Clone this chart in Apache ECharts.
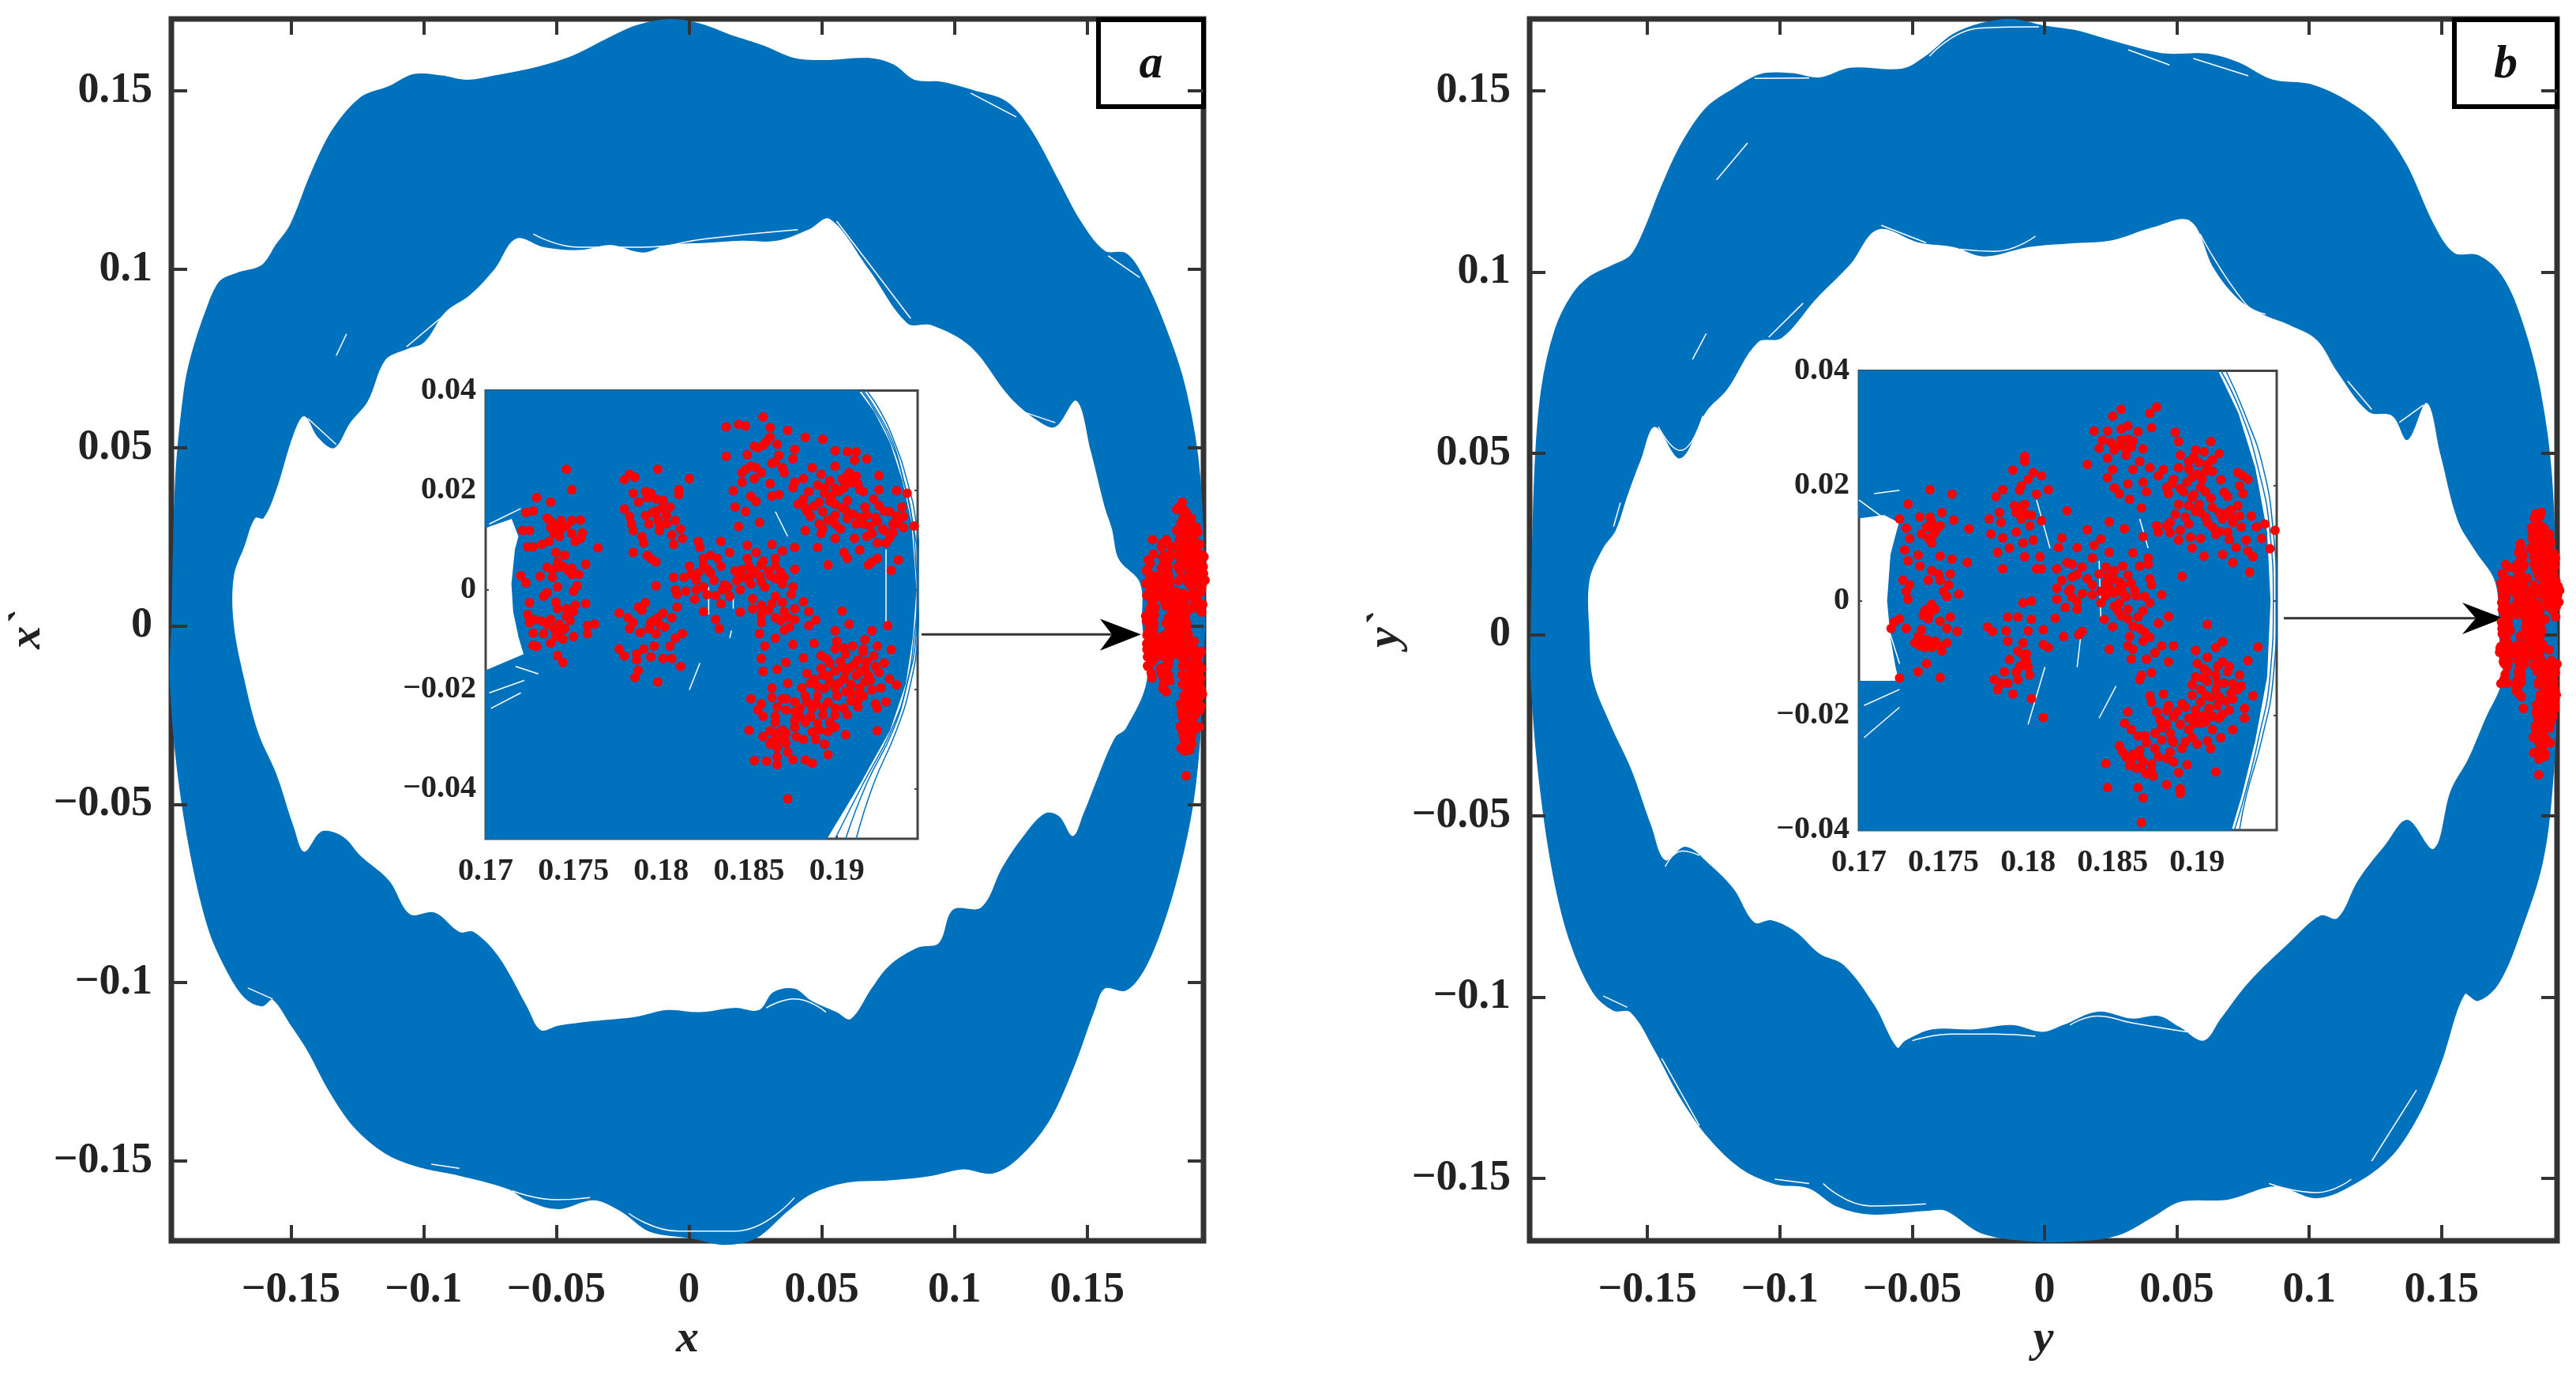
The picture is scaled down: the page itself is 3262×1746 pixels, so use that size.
<!DOCTYPE html>
<html><head><meta charset="utf-8">
<style>html,body{margin:0;padding:0;background:#fff}#c{width:3262px;height:1746px;filter:blur(0.7px)}</style>
<script src="https://cdn.jsdelivr.net/npm/echarts@6/dist/echarts.min.js"></script>
</head><body><div id="c"></div>
<script>
const ticksMain=[-.15,-.1,-.05,0,.05,.1,.15];
const ticksInsetX=[.17,.175,.18,.185,.19];
const ticksInsetY=[-.04,-.02,0,.02,.04];

const outerA=[[-.1948,.0005],[-.1933,.0418],[-.1901,.0661],[-.1874,.0758],[-.1821,.088],[-.1768,.0965],[-.1701,.0989],[-.1608,.1011],[-.1555,.1068],[-.1502,.1123],[-.1423,.1269],[-.1343,.139],[-.1237,.1481],[-.113,.1512],[-.1037,.1546],[-.0931,.1542],[-.0838,.153],[-.0732,.1542],[-.0573,.1566],[-.044,.1597],[-.0307,.1646],[-.0201,.1682],[-.0081,.17],[.0038,.1688],[.0171,.1652],[.0277,.1627],[.0397,.1591],[.0516,.1585],[.0676,.1591],[.0769,.1573],[.0848,.153],[.0955,.1524],[.1074,.15],[.1194,.147],[.1287,.139],[.1393,.1245],[.1473,.1135],[.1566,.105],[.1645,.1044],[.1711,.0977],[.1791,.0843],[.1871,.0661],[.1924,.0418],[.1942,.0005],[.1932,-.0151],[.1924,-.0314],[.1897,-.0501],[.1844,-.0689],[.1778,-.0852],[.1712,-.0965],[.1645,-.1021],[.1565,-.1015],[.1526,-.1077],[.1446,-.124],[.1353,-.139],[.1233,-.1496],[.1141,-.1534],[.1034,-.1522],[.0915,-.154],[.0755,-.1553],[.0596,-.1559],[.0463,-.159],[.037,-.164],[.0251,-.1716],[.0131,-.1734],[.0012,-.1716],[-.0148,-.1697],[-.0254,-.1641],[-.036,-.1609],[-.0493,-.1634],[-.0612,-.1609],[-.0679,-.1578],[-.0865,-.154],[-.1024,-.1515],[-.1144,-.1478],[-.1263,-.1403],[-.1356,-.1302],[-.1436,-.119],[-.1502,-.1115],[-.1568,-.1046],[-.1608,-.1065],[-.1675,-.104],[-.1741,-.0965],[-.1808,-.0852],[-.1874,-.0651],[-.1927,-.0401],[-.1954,-.0151]];
const holeA=[[-.1715,.0005],[-.1715,.0138],[-.1675,.0223],[-.1635,.0302],[-.1603,.0302],[-.1555,.0381],[-.1489,.0539],[-.1449,.0588],[-.1396,.0527],[-.1337,.0499],[-.1276,.057],[-.121,.063],[-.1144,.0746],[-.1064,.0776],[-.0998,.0795],[-.0918,.088],[-.0825,.0928],[-.0732,.1001],[-.0652,.1086],[-.0546,.1062],[-.0413,.1054],[-.0294,.1068],[-.0174,.1047],[-.0081,.1068],[.0065,.1074],[.0198,.108],[.0331,.108],[.045,.1111],[.053,.1141],[.0676,.1001],[.0822,.0849],[.0915,.0843],[.1061,.0783],[.1207,.0643],[.1313,.0576],[.138,.0558],[.1459,.0631],[.1513,.0491],[.1566,.0333],[.1593,.0272],[.1619,.0187],[.1699,.012],[.1707,.0005],[.1725,-.0151],[.1645,-.0288],[.1605,-.0313],[.1539,-.0426],[.1486,-.0526],[.1446,-.0589],[.1393,-.0533],[.134,-.0526],[.126,-.0589],[.118,-.0677],[.1101,-.0789],[.0994,-.0796],[.0941,-.0889],[.0862,-.0902],[.0755,-.0952],[.0689,-.1015],[.0609,-.1102],[.0556,-.1083],[.0463,-.1052],[.0397,-.1017],[.0317,-.1027],[.0264,-.1077],[.0171,-.1071],[.0038,-.1083],[-.0081,-.1077],[-.0201,-.1096],[-.036,-.1108],[-.0493,-.1121],[-.0559,-.1133],[-.0612,-.1065],[-.0718,-.0927],[-.0811,-.0858],[-.0865,-.0858],[-.0958,-.0804],[-.1051,-.0808],[-.113,-.0714],[-.1237,-.0645],[-.1303,-.0591],[-.1383,-.0576],[-.1449,-.0633],[-.1489,-.0564],[-.1555,-.0414],[-.1622,-.0301],[-.1675,-.0151]];
const outerB=[[-.1939,0],[-.1926,.0436],[-.19,.0675],[-.1848,.0842],[-.1783,.0938],[-.1719,.0986],[-.1628,.1019],[-.1563,.1045],[-.1511,.1117],[-.1446,.1236],[-.1369,.1356],[-.1278,.1452],[-.1174,.1505],[-.1071,.1545],[-.0954,.1547],[-.085,.1535],[-.0734,.1562],[-.0539,.1559],[-.0448,.1595],[-.0345,.1655],[-.0241,.1685],[-.0124,.1697],[-.0008,.1679],[.0122,.1665],[.0226,.1643],[.0342,.1619],[.0459,.1601],[.0614,.1601],[.0731,.1577],[.0861,.1529],[.1003,.1517],[.1146,.147],[.1262,.1404],[.1366,.1296],[.147,.1129],[.1547,.1051],[.1638,.1045],[.1729,.0986],[.1807,.0854],[.1871,.0675],[.1915,.0436],[.1936,0],[.1936,-.0123],[.1923,-.0369],[.1884,-.0615],[.1807,-.08],[.1716,-.096],[.1638,-.1009],[.1586,-.0991],[.1496,-.1182],[.1418,-.1317],[.1314,-.1434],[.1185,-.1508],[.1029,-.1553],[.0873,-.152],[.0692,-.1557],[.0511,-.1563],[.0407,-.1606],[.0277,-.1656],[.0122,-.1672],[-.006,-.1672],[-.0241,-.1649],[-.0371,-.1588],[-.0448,-.1588],[-.0656,-.1598],[-.0785,-.1576],[-.0889,-.1526],[-.1019,-.1514],[-.1148,-.1471],[-.1278,-.1379],[-.1382,-.1268],[-.1472,-.1145],[-.1563,-.104],[-.1628,-.1036],[-.1706,-.0985],[-.1796,-.0837],[-.1861,-.064],[-.1913,-.0369],[-.1939,-.0123]];
const holeB=[[-.1719,0],[-.1719,.0149],[-.1667,.0239],[-.162,.0287],[-.1576,.0382],[-.1524,.0484],[-.1472,.0573],[-.1376,.0486],[-.1278,.0615],[-.12,.0675],[-.1083,.0806],[-.0993,.0818],[-.0863,.0926],[-.0734,.1021],[-.063,.1117],[-.0474,.1081],[-.0345,.1069],[-.0228,.1043],[-.006,.1069],[.0096,.1079],[.0251,.1087],[.0407,.1123],[.055,.1141],[.064,.1009],[.0731,.0926],[.0822,.0884],[.0925,.0854],[.1029,.0812],[.1107,.0723],[.1223,.0615],[.1314,.0603],[.1371,.0537],[.1444,.0639],[.1496,.0495],[.156,.0316],[.1625,.0233],[.1703,.0143],[.1716,0],[.1729,-.0123],[.1664,-.0234],[.1599,-.0345],[.1534,-.0431],[.147,-.0591],[.1371,-.0511],[.1288,-.0579],[.1185,-.0677],[.1107,-.0782],[.1042,-.0775],[.0925,-.0849],[.077,-.096],[.0666,-.1059],[.0601,-.112],[.0511,-.1083],[.0433,-.1052],[.0329,-.1059],[.02,-.104],[.007,-.1077],[-.0008,-.1096],[-.0124,-.1077],[-.0267,-.1089],[-.0423,-.1089],[-.0526,-.112],[-.0557,-.1139],[-.0643,-.1022],[-.0759,-.0911],[-.085,-.088],[-.0941,-.0819],[-.1032,-.0788],[-.1096,-.0794],[-.1174,-.0702],[-.1265,-.0634],[-.1356,-.0585],[-.1433,-.0622],[-.1485,-.0529],[-.1563,-.0369],[-.1641,-.0246],[-.1706,-.0123]];

const insetBodyA=[[.17,.04],[.1912,.04],[.1921,.0357],[.193,.0295],[.1937,.0219],[.1942,.0138],[.1944,.005],[.1945,0],[.1943,-.0094],[.1939,-.0188],[.193,-.0282],[.1913,-.0389],[.1894,-.05],[.17,-.05],[.17,-.0163],[.1722,-.013],[.1719,-.0094],[.1716,-.0044],[.1715,.0012],[.1717,.0081],[.1719,.0107],[.1715,.0144],[.1702,.0128],[.17,.0125]];
const insetArcsA=[[[.1917,.04],[.1925,.0357],[.1933,.0295],[.194,.0219],[.1945,.0138],[.1947,.005],[.1947,0],[.1946,-.0094],[.1942,-.0188],[.1934,-.0282],[.1921,-.0389],[.1911,-.05]],[[.1915,.04],[.1923,.0357],[.1932,.0295],[.1938,.0219],[.1943,.0138],[.1946,.005],[.1946,0],[.1945,-.0094],[.194,-.0188],[.1932,-.0282],[.1917,-.0389],[.1905,-.05]],[[.1914,.04],[.1922,.0357],[.1931,.0295],[.1938,.0219],[.1943,.0138],[.1945,.005],[.1946,0],[.1944,-.0094],[.194,-.0188],[.1931,-.0282],[.1915,-.0389],[.1899,-.05]]];
const insetWhiteA=[[[.1702,-.0207],[.1722,-.0182]],[[.1703,-.0238],[.172,-.0207]],[[.1717,-.0154],[.173,-.0169]],[[.1702,.0132],[.172,.0163]],[[.1865,.0157],[.1872,.0107]],[[.1841,-.0013],[.1841,-.0038]],[[.184,-.0082],[.1839,-.0097]],[[.1822,-.0147],[.1816,-.0201]],[[.1827,.0006],[.1827,-.005]],[[.1928,.0081],[.1928,-.0075]]];
const insetBodyB=[[.17,.04],[.1912,.04],[.1924,.0326],[.1934,.0231],[.1941,.0119],[.1943,-.0001],[.1941,-.0133],[.1934,-.0244],[.1926,-.034],[.192,-.04],[.17,-.04],[.17,-.0141],[.1724,-.0141],[.1722,-.0116],[.1719,-.0065],[.1717,-.0001],[.1719,.008],[.1724,.0136],[.1715,.015],[.17,.0144]];
const insetArcsB=[[[.1917,.04],[.1928,.0326],[.1939,.0231],[.1945,.0119],[.1947,-.0001],[.1945,-.0133],[.1938,-.0244],[.1929,-.034],[.1925,-.04]],[[.1914,.04],[.1926,.0326],[.1936,.0231],[.1943,.0119],[.1945,-.0001],[.1943,-.0133],[.1936,-.0244],[.1928,-.034],[.1922,-.04]]];
const insetWhiteB=[[[.1805,.0175],[.1813,.0091]],[[.181,-.0116],[.18,-.0216]],[[.1842,.0069],[.1843,-.0032]],[[.1866,.0142],[.1871,.0091]],[[.1852,-.0149],[.1842,-.0205]],[[.1831,-.0065],[.1829,-.0116]],[[.17,.0175],[.1713,.0147]],[[.1709,.0186],[.1724,.0192]],[[.1703,-.0183],[.1724,-.0155]],[[.1703,-.0239],[.1724,-.0186]],[[.1718,-.0054],[.1724,-.011]]];

const slitsA=[[[-.129,.0819],[-.1329,.0758]],[[-.1436,.0582],[-.1329,.0509]],[[-.1064,.0783],[-.0918,.0874]],[[-.0586,.1099],[-.0413,.1062],[-.0174,.1062],[.0065,.1086],[.041,.1111]],[[.0556,.1135],[.0835,.0862]],[[.126,.06],[.138,.057]],[[.1579,.1038],[.1698,.0977]],[[.1061,.1494],[.1233,.1427]],[[-.0666,-.1584],[-.0493,-.1609],[-.0373,-.1603]],[[-.0227,-.1647],[-.0041,-.1697],[.0171,-.1697],[.0397,-.1603]],[[-.0971,-.1509],[-.0865,-.1521]],[[.0291,-.1071],[.0397,-.1046],[.0516,-.1083]],[[.1313,-.1478],[.1446,-.1315]],[[-.1662,-.1015],[-.1568,-.1046]]];
const slitsB=[[[-.133,.0759],[-.1278,.083]],[[-.1239,.1254],[-.1122,.1356]],[[-.1459,.0573],[-.1376,.0508],[-.1291,.0603]],[[-.1628,.0298],[-.1602,.0364]],[[-.1042,.082],[-.0912,.0914]],[[-.0617,.1129],[-.0448,.1081]],[[-.0319,.1063],[-.0189,.1057],[-.0034,.1099]],[[.0588,.1105],[.0757,.0914],[.0835,.0884]],[[.1145,.0699],[.1236,.0621]],[[.134,.0585],[.1431,.0633]],[[-.1096,.1534],[-.0889,.1535]],[[-.0435,.1595],[-.0241,.1673],[-.0021,.1676]],[[.0316,.1613],[.0472,.1571]],[[.0562,.1589],[.077,.1541]],[[-.05,-.112],[-.0345,-.1102],[-.0189,-.1102],[-.0034,-.1108]],[[.0096,-.1077],[.02,-.1052],[.0329,-.1071],[.0537,-.1096]],[[-.1433,-.064],[-.1369,-.0597],[-.1304,-.0609]],[[-.1667,-.0997],[-.1576,-.1028]],[[-.0836,-.1514],[-.0656,-.1576],[-.0448,-.157]],[[-.1019,-.1502],[-.0889,-.1514]],[[.0848,-.1514],[.1029,-.1539],[.1159,-.1502]],[[.1236,-.1452],[.1405,-.1256]],[[-.1446,-.1169],[-.1304,-.1354]]];

const arrowA=[[.0876,-.0024],[.1593,-.0024]];
const arrowHeadA=[[.1703,-.0024],[.1548,.002],[.1593,-.0024],[.1548,-.0069]];
const arrowB=[[.0904,.0045],[.1629,.0045]];
const arrowHeadB=[[.1733,.0045],[.1578,.0088],[.1629,.0045],[.1578,.0001]];

const redA=[
[.1746,.0242],[.1749,.0201],[.1729,.0185],[.1737,.0176],[.1723,.0155],[.1727,.0158],[.1735,.0144],[.1737,.0138],[.1743,.0139],[.1749,.0139],[.1754,.014],[.174,.0129],[.1743,.0122],[.1739,.0113],[.1721,.0119],[.1725,.0119],[.1749,.0113],[.1755,.0114],[.1742,.0107],[.1751,.0097],[.1754,.0103],[.1724,.0086],[.1727,.0086],[.1732,.0091],[.1736,.0097],[.1764,.0084],
[.174,.0075],[.1745,.0069],[.1741,.0056],[.1735,.0045],[.1744,.0047],[.1757,.0051],[.1747,.0038],[.1738,.0025],[.1731,.0027],[.172,.0028],[.1723,.0014],[.1749,.0031],[.1753,.0031],[.1741,.0006],[.1752,.0008],[.175,-.0003],[.1735,-.0006],[.1733,-.0013],
[.1725,-.0026],[.174,-.0025],[.1741,-.0038],[.1757,-.0028],[.1751,-.0031],[.175,-.0044],[.1724,-.005],[.1728,-.006],[.1732,-.0063],[.1737,-.006],[.1746,-.0053],[.1742,-.0069],[.1725,-.0066],[.1739,-.0078],[.1762,-.0069],[.1758,-.0072],[.1758,-.0088],[.1727,-.0087],[.175,-.0094],[.1744,-.0099],[.174,-.0094],[.1737,-.0107],[.1727,-.0112],[.1729,-.0114],[.1741,-.0132],[.1744,-.0146],[.1733,-.0088],
[.1798,.0242],[.1779,.0221],[.1782,.0232],[.1785,.0226],[.1816,.0223],[.181,.0201],[.181,.0191],[.1784,.0194],[.1791,.0197],[.1794,.0194],[.1792,.0185],[.1787,.0176],[.1797,.0182],[.1801,.0179],[.1805,.0166],[.1779,.0162],[.18,.0163],[.1791,.0149],[.1782,.0147],[.1783,.0132],[.1798,.0141],[.1808,.0139],[.1799,.0132],[.1803,.0132],[.1784,.0119],[.1793,.0132],[.1811,.0122],[.1799,.0119],[.1806,.011],[.1789,.0107],[.1812,.0103],[.179,.0094],[.1807,.0091],[.1784,.0075],[.1792,.0069],[.1794,.0063],[.1797,.0056],
[.1797,.0008],[.1807,.0025],[.1808,0],[.1809,-.0009],[.1791,-.0026],[.1787,-.0035],[.1789,-.0041],[.1809,-.0035],[.1776,-.0047],[.1801,-.0047],[.1781,-.0056],[.1798,-.0056],[.1806,-.0056],[.1784,-.0066],[.1795,-.0063],[.1782,-.0078],[.1793,-.0078],[.1802,-.0075],[.1797,-.0088],[.1812,-.0088],[.1808,-.0097],[.1776,-.0119],[.1779,-.0133],[.179,-.0119],[.1786,-.0129],[.1796,-.0113],[.1805,-.0113],[.1786,-.0141],[.1794,-.0135],[.1801,-.0138],[.1806,-.0138],[.1811,-.0154],[.1787,-.0162],[.1785,-.0176],[.1798,-.0185],
[.1834,.0097],[.1821,.0097],[.1822,.0085],[.1849,.0089],[.1863,.0091],[.1876,.0085],[.1839,.0075],[.1828,.0069],[.1869,.0078],[.1854,.0075],[.1824,.0063],[.1832,.0063],[.1865,.0063],[.1849,.0063],[.1816,.0047],[.1824,.005],[.1834,.0047],[.1842,.0038],[.185,.0047],[.1857,.005],[.1865,.0047],[.1876,.0041],[.1817,.0031],[.1828,.0034],[.1845,.0028],[.1853,.0038],[.1861,.0038],[.187,.0025],[.182,.0019],[.183,.0019],[.1838,.0006],[.1844,.0022],[.1849,.0022],[.1857,.0016],[.1865,.0022],[.1814,-.0003],[.182,0],[.1824,.0006],[.1835,0],[.1839,-.0013],[.1845,0],[.1819,-.0019],[.1834,-.0028],[.1875,.0006],[.1874,-.0009],[.1865,-.0013],[.1881,-.0024],
[.1824,-.0044],[.1845,-.0045],[.1852,-.0038],[.1857,-.0031],[.1861,-.0041],[.1869,-.0025],[.1857,-.005],[.187,-.0044],[.1876,-.0038],[.1865,-.0056],[.1857,-.0066],[.1876,-.006],[.1873,-.0075],[.1884,-.0044],[.1888,-.0061],[.1884,-.0072],[.1831,-.006],[.1833,-.0078],[.1856,-.0088],[.1865,-.0097],[.187,-.0081],[.1859,-.0113],[.1875,-.011],[.1887,-.0108],[.1857,-.0138],[.1871,-.0146],[.1881,-.0137],[.1858,-.0164],[.1866,-.016],
[.1858,.0347],[.1837,.0327],[.1844,.0332],[.1848,.0329],[.1862,.0326],[.1872,.032],[.1862,.0307],[.1882,.0306],[.1892,.0302],[.186,.0298],[.1853,.0288],[.1849,.0271],[.1876,.0282],[.1837,.0268],[.1875,.0263],[.1867,.027],[.1863,.0254],[.1857,.0235],[.1851,.0248],[.1846,.0235],[.187,.0235],[.1865,.0257],[.1853,.0223],[.1846,.0216],[.1862,.0213],[.1876,.0216],[.1841,.0199],[.1863,.0188],[.1867,.0191],[.1851,.0188],[.1854,.0177],[.1842,.0166],[.1848,.0157],[.1856,.0135],[.1844,.0127],
[.1899,.0279],[.1906,.0277],[.1911,.0277],[.191,.026],[.1917,.0263],[.1899,.0248],[.1886,.0245],[.1891,.0232],[.1896,.0219],[.1905,.0226],[.1909,.0226],[.1906,.0213],[.1881,.0223],[.1924,.0229],[.1899,.0204],[.1904,.0204],[.1884,.0197],[.1893,.0194],[.1897,.0188],[.1881,.0182],[.1878,.0172],[.189,.0176],[.1899,.0172],[.1906,.0179],[.1913,.0201],[.1892,.0157],[.1899,.015],[.1883,.0157],[.1905,.016],[.1916,.0166],[.189,.0132],[.1899,.0132],[.1882,.0119],[.1891,.0113],[.1899,.0103],[.191,.0103],[.1889,.0085],[.1904,.0075],[.1906,.0063],[.1895,.005],[.1913,.008],
[.1915,.0197],[.1924,.0201],[.1934,.0199],[.194,.0194],[.1921,.0182],[.193,.0157],[.1924,.0169],[.1937,.0166],[.1917,.015],[.1938,.0147],[.1915,.0132],[.1923,.0138],[.1932,.0132],[.1944,.0128],[.192,.0113],[.1927,.0119],[.1935,.0132],[.1917,.0107],[.193,.0103],[.1923,.0094],[.1928,.0094],[.1918,.005],[.1923,.0063],[.1935,.006],[.1931,.0039],[.192,.0056],
[.1903,-.0043],[.1907,-.0069],[.1929,-.0072],[.1899,-.0082],[.192,-.0082],[.1916,-.01],[.19,-.0103],[.1909,-.0113],[.1923,-.0113],[.1931,-.012],[.1899,-.0119],[.1891,-.0132],[.1915,-.0119],[.1905,-.0129],[.1894,-.0138],[.1912,-.0141],[.1902,-.0144],[.1917,-.0144],[.1907,-.0157],[.1922,-.0154],[.1924,-.0166],[.1899,-.0163],[.1892,-.0172],[.1883,-.0168],[.1911,-.0172],[.1904,-.0179],[.193,-.0179],[.1934,-.0191],[.1896,-.0185],[.1919,-.0182],[.1925,-.0197],[.1872,-.0188],[.1863,-.0197],[.1885,-.0188],[.1889,-.0194],[.188,-.0197],[.1899,-.0197],[.1913,-.0197],[.1908,-.0207],[.192,-.0201],[.1851,-.0219],[.1863,-.0216],[.1871,-.0219],[.1882,-.0213],[.1889,-.0213],[.19,-.0213],[.1915,-.0213],[.1928,-.0225],[.1857,-.0229],[.1869,-.0219],[.1895,-.0226],[.1908,-.0223],[.1922,-.0229],[.1923,-.0238],[.1855,-.0241],[.1871,-.0241],[.1886,-.0238],[.1899,-.0238],[.1912,-.0235],[.1858,-.0254],[.1865,-.0254],[.1879,-.0254],[.1892,-.0251],[.1906,-.0251],[.1865,-.0266],[.1876,-.0263],[.1882,-.0266],[.1896,-.0266],[.185,-.0282],[.1923,-.0283],[.1858,-.0295],[.1865,-.0288],[.1869,-.0282],[.1876,-.0276],[.189,-.0282],[.1899,-.0276],[.1905,-.0291],[.1863,-.0304],[.187,-.0298],[.1881,-.0301],[.1888,-.0301],[.1893,-.031],[.1866,-.0317],[.1872,-.0326],[.1895,-.0331],[.1866,-.0335],[.1853,-.0343],[.186,-.0344],[.1866,-.0351],[.1875,-.0341],[.1882,-.0342],[.1886,-.0348],[.1872,-.042]
];
const redADense=[
[.1893,.0205],[.1901,.0197],[.1896,.0178],[.1903,.0165],[.1887,.0168],[.1885,.0147],[.1895,.014],[.1908,.0215],[.1912,.0212],[.1903,.0222],[.1911,.0228],[.1907,.0235],[.1889,.021],[.1875,.0205],[.1882,.0164],[.1892,.0123],[.1902,.0122],[.1906,.0143],[.1909,.0152],[.1913,.0145],[.1911,.0132],[.1922,.0145],[.1927,.0158],[.1934,.0148],[.1926,.0122],[.1919,.0128],[.1932,.0115],[.1938,.0125],
[.1855,.0285],[.1858,.029],[.1866,.0292],[.1869,.0245],[.1854,.0245],[.1848,.0242],
[.1846,.004],[.1851,.003],[.1856,.0028],[.1862,.0028],[.1868,.0035],[.1858,.0058],[.1843,.0018],[.1851,.0012],[.1859,.0005],[.1869,.0012],[.1826,.0042],[.1821,.0034],[.1813,.0025],[.1836,.001],[.1826,-.001],[.1831,-.0012],[.1852,-.0018],[.1858,-.0042],[.1863,-.0028],[.1872,-.0055],[.1868,-.0062],
[.1896,-.0147],[.1903,-.0155],[.191,-.015],[.1916,-.0158],[.1905,-.0165],[.1913,-.0165],[.1891,-.0158],[.1895,-.0172],[.1901,-.0188],[.1908,-.019],[.1916,-.0185],[.1887,-.018],[.1893,-.0198],[.1905,-.0205],[.1913,-.021],[.1888,-.0228],[.1883,-.0225],[.1876,-.0225],[.1892,-.0236],[.1904,-.0238],[.1912,-.0222],[.1879,-.0238],[.1866,-.0235],[.1876,-.0245],[.1885,-.0255],[.1899,-.0252],[.1889,-.0268],[.1862,-.0283],[.1871,-.0288],[.1866,-.0302],[.1862,-.031],[.1871,-.0308],[.1877,-.0295],[.1886,-.0285],[.1895,-.0285],[.1915,-.0125],[.1921,-.0133],[.1927,-.0147],[.1918,-.0172],[.1904,-.0117],
[.1737,.0125],[.1746,.0128],[.1742,.0045],[.1738,.004],[.1749,.0043],[.1746,-.0038],[.1735,-.007],[.1745,-.0078],[.1742,-.0088],[.1748,-.0062],[.1795,.0155],[.1803,.015],[.1797,.0158],[.1794,-.0066],[.1788,-.0086],[.1799,-.007]
];
const redB=[
[.1742,.0193],[.1755,.0185],[.1729,.0168],[.1724,.0142],[.1736,.0145],[.1749,.0153],[.1756,.014],[.1765,.0125],[.1728,.0126],[.1743,.0136],[.174,.0128],[.1748,.013],[.1745,.0119],[.173,.0108],[.1741,.0108],[.1737,.0116],[.1743,.01],[.1727,.0088],
[.1735,.0079],[.1748,.0077],[.1755,.0072],[.1764,.0066],[.1729,.0069],[.1736,.006],[.1743,.0052],[.1747,.0046],[.1754,.0046],[.1741,.0035],[.1748,.0035],[.1726,.0035],[.173,.0027],[.1753,.0027],[.175,.0016],[.1728,.0016],[.1759,.0011],[.1752,.0007],[.1729,.0002],
[.1743,-.0007],[.174,-.0015],[.1745,-.0015],[.1738,-.0026],[.1742,-.0023],[.1754,-.0029],[.1724,-.0032],[.1721,-.0037],[.1748,-.0036],[.1719,-.0049],[.1728,-.0049],[.1752,-.0049],[.1758,-.0054],[.1737,-.0051],[.1735,-.0063],[.1733,-.0074],[.174,-.0068],[.1745,-.0071],[.1752,-.0074],[.1736,-.0079],[.1743,-.0082],[.1749,-.0088],[.174,-.011],[.1735,-.0124],[.1748,-.0134],[.1724,-.0135],
[.1798,.0251],[.1798,.0242],[.1791,.0227],[.1803,.0223],[.1808,.0217],[.18,.0211],[.1796,.02],[.1795,.0192],[.1812,.0193],[.1785,.0193],[.1781,.0181],[.1805,.0185],[.1798,.0167],[.1793,.0153],[.1783,.0153],[.1799,.015],[.1796,.0142],[.1777,.0142],[.1784,.0136],[.1808,.0139],[.1801,.013],[.1793,.0119],[.1778,.0116],[.1785,.0109],[.1803,.0105],[.1797,.01],[.1789,.0091],[.1782,.0084],[.1798,.0076],[.1807,.0076],[.1785,.0055],[.1805,.0055],[.1808,.0055],
[.1802,-.0001],[.1797,-.0004],[.1788,-.0029],[.1794,-.0029],[.1802,-.0033],[.1776,-.0046],[.1779,-.0054],[.1787,-.0053],[.18,-.0053],[.1809,-.0051],[.1788,-.0071],[.1797,-.0074],[.1809,-.0077],[.1812,-.0082],[.1794,-.0088],[.1799,-.0093],[.1789,-.0103],[.1798,-.0107],[.18,-.0116],[.1786,-.0124],[.1801,-.013],[.1794,-.0138],[.178,-.0138],[.1784,-.0144],[.1788,-.0144],[.1782,-.0155],[.1791,-.0163],[.1802,-.0171],[.1809,-.0204],
[.1823,.0156],[.1848,.0137],[.1835,.0123],[.1857,.0125],[.182,.0109],[.1843,.0107],[.1868,.0111],[.1818,.0092],[.1829,.0092],[.1839,.0096],[.1848,.0084],[.1862,.0083],[.1871,.0074],[.1838,.0074],[.1823,.0066],[.1817,.0055],[.1826,.0063],[.1832,.0058],[.1846,.0058],[.1856,.006],[.1866,.006],[.1871,.0063],[.1826,.0041],[.1835,.0038],[.1842,.0046],[.1851,.0052],[.1859,.0044],[.1872,.0038],[.1817,.0021],[.1824,.0016],[.1838,.0027],[.1846,.003],[.1854,.0032],[.1873,.0027],[.1838,.001],[.1851,.0013],[.1856,.0013],[.1879,.001],[.1817,.0002],[.1826,.0005],[.1843,-.0004],[.1854,-.0004],[.1869,.0007],[.1872,-.0004],[.1822,-.0012],[.1829,-.0015],[.1853,-.0018],[.1859,-.0015],[.1868,-.0018],[.1816,-.0031],[.1845,-.0033],[.1859,-.0032],[.1865,-.0029],[.1877,-.004],[.1883,-.0028],[.185,-.0046],[.1866,-.0049],[.1821,-.0063],[.183,-.006],[.1832,-.0054],[.186,-.0063],[.1872,-.0064],[.1868,-.0071],[.1859,-.0079],[.1848,-.0085],[.1879,-.0079],[.1886,-.0079],[.1862,-.0085],[.1875,-.0091],[.1861,-.0102],[.187,-.0102],[.1883,-.0107],[.1873,-.0126],[.1867,-.013],[.1866,-.0138],
[.1876,.0337],[.1855,.0333],[.1872,.0326],[.185,.0321],[.1873,.0301],[.1839,.0295],[.1847,.0295],[.1855,.0299],[.1859,.0304],[.1865,.0294],[.1859,.0281],[.1844,.0279],[.1854,.027],[.1842,.0265],[.1861,.0267],[.1868,.0264],[.1858,.0253],[.1847,.0248],[.1866,.0242],[.1835,.0237],[.185,.0228],[.1862,.0228],[.1872,.0231],[.1847,.0214],[.1859,.0203],[.1851,.0196],[.1868,.0206],[.187,.0189],[.1854,.0186],[.186,.0176],[.1867,.0161],
[.1887,.0293],[.1889,.0277],[.1908,.0277],[.1899,.0262],[.189,.0253],[.1904,.0259],[.1913,.0256],[.1895,.0242],[.1906,.0237],[.188,.0228],[.1889,.0231],[.1877,.0217],[.19,.022],[.1909,.0225],[.1886,.0211],[.1894,.0206],[.1903,.0211],[.1882,.0197],[.189,.0195],[.1902,.0197],[.1914,.021],[.1924,.0223],[.1883,.0186],[.1898,.0184],[.1908,.0178],[.1918,.0181],[.1889,.0167],[.1901,.0167],[.1913,.0153],[.1887,.015],[.1902,.0153],[.192,.0158],[.1884,.0136],[.1895,.0133],[.1906,.0136],[.1876,.013],[.1882,.013],[.1877,.0119],[.1889,.0105],[.1902,.0108],[.1897,.0091],[.1909,.0128],[.1904,.0077],[.1891,.0042],[.1915,.008],[.1921,.0066],
[.193,.0211],[.1925,.02],[.1927,.0186],[.1918,.0153],[.1925,.0147],[.1915,.0142],[.1932,.0147],[.1921,.0136],[.1918,.0119],[.194,.0133],[.1946,.0122],[.1935,.0128],[.1938,.0108],[.1929,.0105],[.1923,.0092],[.1943,.009],[.193,.0086],[.1933,.0076],[.1931,.0049],[.1927,.0217],
[.1906,-.0042],[.1915,-.0072],[.1911,-.0082],[.1899,-.0087],[.1936,-.0081],[.1906,-.0099],[.193,-.0105],[.1915,-.0107],[.19,-.011],[.1904,-.0119],[.1918,-.0124],[.1911,-.013],[.1925,-.013],[.1899,-.0133],[.1906,-.0141],[.1916,-.0144],[.1897,-.0147],[.1926,-.0149],[.1902,-.0155],[.1911,-.0155],[.192,-.0161],[.1872,-.0166],[.188,-.0163],[.1933,-.0166],[.1873,-.0177],[.1908,-.0169],[.1917,-.0175],[.1883,-.0183],[.1891,-.018],[.1902,-.0177],[.1912,-.0183],[.1876,-.0194],[.1859,-.0194],[.1888,-.0194],[.1899,-.0191],[.1928,-.0188],[.1919,-.0191],[.1904,-.02],[.1878,-.0208],[.1895,-.0205],[.1913,-.0205],[.1928,-.0205],[.1857,-.0214],[.1882,-.0216],[.1902,-.0214],[.1895,-.0225],[.1861,-.0225],[.1875,-.0231],[.1884,-.0231],[.1909,-.0225],[.1921,-.0225],[.1865,-.0236],[.1869,-.0236],[.1897,-.0239],[.1914,-.0239],[.1885,-.0244],[.19,-.025],[.1854,-.0253],[.1908,-.0258],[.1875,-.0258],[.1891,-.0258],[.1856,-.0264],[.1866,-.0261],[.1884,-.0264],[.1846,-.0284],[.1861,-.0278],[.1868,-.0281],[.1886,-.0281],[.1894,-.0286],[.1864,-.0292],[.1873,-.0298],[.1889,-.03],[.1911,-.0299],[.1874,-.0306],[.1847,-.0326],[.1865,-.0326],[.1882,-.0321],[.189,-.0328],[.1868,-.0344],[.189,-.0336],[.1867,-.0387]
];
const redBDense=[
[.1885,.0203],[.1892,.0189],[.1897,.018],[.1905,.0189],[.1895,.0165],[.1899,.0155],[.1893,.0145],[.1905,.0145],[.1909,.0162],[.1897,.0215],[.1905,.0225],[.1895,.0229],[.1901,.024],[.1909,.0245],[.1898,.025],[.1916,.0188],[.1924,.0165],[.1921,.0143],[.1926,.0128],[.1913,.012],[.1919,.0106],[.1911,.0115],[.189,.0122],[.1884,.0118],[.1896,.011],
[.1855,.028],[.1851,.0262],[.1858,.0265],[.1849,.0275],[.1862,.0278],
[.1847,.0042],[.1851,.0036],[.1856,.0027],[.1861,.003],[.1848,.0022],[.1853,.0018],[.1843,.0016],[.1863,.0018],[.1858,.0007],[.1864,.0008],[.1846,.0008],[.1855,-.0027],[.1851,-.001],[.1862,-.0045],[.1869,-.0055],[.182,.0035],[.1829,.0045],[.1825,.002],[.1832,.0012],[.1829,-.0002],
[.1906,-.0125],[.1912,-.0115],[.1919,-.0115],[.1903,-.0135],[.1912,-.0143],[.1921,-.0145],[.1924,-.0155],[.1905,-.0165],[.1913,-.0168],[.1921,-.0172],[.1897,-.0165],[.1893,-.0186],[.1899,-.02],[.1907,-.0188],[.1915,-.0198],[.1898,-.0215],[.1905,-.0212],[.1909,-.0202],[.189,-.0216],[.1886,-.0203],[.1882,-.0192],[.1879,-.0222],[.187,-.0248],[.1879,-.0243],[.1886,-.0247],[.1877,-.0272],[.1866,-.0272],[.186,-.0288],[.1867,-.0292],[.187,-.0302],[.1862,-.0268],[.1858,-.0273],[.1882,-.0275],[.1873,-.0285],[.1893,-.0246],[.1906,-.0245],
[.1741,.0128],[.1746,.0125],[.1744,.0115],[.1742,.0145],[.1743,-.0015],[.1739,-.0018],[.1741,-.0032],[.1736,-.0063],[.1741,-.0076],[.1747,-.0078],[.1739,-.0082],[.1797,.0165],[.1795,.0158],[.1802,.0148],[.1792,.0165],[.1797,-.0095],[.1799,-.0105],[.1795,-.0115],[.1793,-.0125]
];

const BLUE='#0071bc', RED='#ff0000', SERIF='"Liberation Serif"';
const fmt=v=>String(+(+v).toFixed(3)).replace('-','\u2212');

function poly(pts,color,xi,yi,z,lw,smooth){
  return {type:'custom',xAxisIndex:xi,yAxisIndex:yi,z,silent:true,animation:false,clip:false,data:pts,
    renderItem(p,api){ if(p.dataIndex!==0) return null;
      return {type:'polygon',shape:{points:pts.map(d=>api.coord(d)),smooth:smooth||0},style:{fill:color,stroke:lw?color:null,lineWidth:lw||0}}; }};
}
function line(pts,color,width,xi,yi,z,smooth){
  return {type:'line',xAxisIndex:xi,yAxisIndex:yi,z,silent:true,animation:false,showSymbol:false,symbol:'none',clip:false,smooth:smooth||false,data:pts,lineStyle:{color,width}};
}
function dots(pts,size,xi,yi,z){
  return {type:'scatter',xAxisIndex:xi,yAxisIndex:yi,z,silent:true,animation:false,clip:false,symbolSize:size,data:pts,itemStyle:{color:RED,opacity:1}};
}
const hiddenLine={show:false,onZero:false};
function mainX(grid,min,max,name){
  const base={type:'value',gridIndex:grid,min,max,splitLine:{show:false},axisLine:hiddenLine};
  return [
   {...base,position:'bottom',z:3,name,nameLocation:'middle',nameGap:96,
    nameTextStyle:{fontFamily:SERIF,fontStyle:'italic',fontWeight:'bold',fontSize:58,color:'#222'},
    axisTick:{show:true,inside:true,length:20,lineStyle:{color:'#333',width:4},customValues:ticksMain},
    axisLabel:{show:true,margin:36,fontFamily:SERIF,fontWeight:'bold',fontSize:54,color:'#222',customValues:ticksMain,formatter:fmt}},
   {...base,position:'top',z:3,
    axisTick:{show:true,inside:true,length:20,lineStyle:{color:'#333',width:4},customValues:ticksMain},axisLabel:{show:false}}];
}
function mainY(grid,min,max,name,gap){
  const base={type:'value',gridIndex:grid,min,max,splitLine:{show:false},axisLine:hiddenLine};
  return [
   {...base,position:'left',z:3,name,nameLocation:'middle',nameGap:gap,
    nameTextStyle:{fontFamily:SERIF,fontStyle:'italic',fontWeight:'bold',fontSize:58,color:'#222'},
    axisTick:{show:true,inside:true,length:20,lineStyle:{color:'#333',width:4},customValues:ticksMain},
    axisLabel:{show:true,margin:24,padding:[8,0,0,0],fontFamily:SERIF,fontWeight:'bold',fontSize:54,color:'#222',customValues:ticksMain,formatter:fmt}},
   {...base,position:'right',z:3,
    axisTick:{show:true,inside:true,length:20,lineStyle:{color:'#333',width:4},customValues:ticksMain},axisLabel:{show:false}}];
}
function insetX(grid,min,max){
  const base={type:'value',gridIndex:grid,min,max,splitLine:{show:false},axisLine:hiddenLine};
  return [{...base,position:'bottom',z:6,axisTick:{show:true,inside:true,length:4,lineStyle:{color:'#444',width:2},customValues:ticksInsetX},
    axisLabel:{show:true,margin:22,fontFamily:SERIF,fontWeight:'bold',fontSize:40,color:'#222',customValues:ticksInsetX,formatter:fmt}},
    {...base,position:'top',z:6,axisTick:{show:false},axisLabel:{show:false}}];
}
function insetY(grid,min,max){
  const base={type:'value',gridIndex:grid,min,max,splitLine:{show:false},axisLine:hiddenLine};
  return [{...base,position:'left',z:6,axisTick:{show:true,inside:true,length:4,lineStyle:{color:'#444',width:2},customValues:ticksInsetY},
    axisLabel:{show:true,margin:12,padding:[6,0,0,0],fontFamily:SERIF,fontWeight:'bold',fontSize:40,color:'#222',customValues:ticksInsetY,formatter:fmt}},
    {...base,position:'right',z:6,axisTick:{show:true,inside:true,length:4,lineStyle:{color:'#444',width:2},customValues:ticksInsetY},axisLabel:{show:false}}];
}
const frame=(l,t,r,b,w,c,z)=>({left:l,top:t,width:r-l,height:b-t,show:true,borderColor:c,borderWidth:w,backgroundColor:'transparent',z});
const SM=0.35;
const series=[
  poly(outerA,BLUE,0,0,2,1.5,SM),poly(holeA,'#fff',0,0,3,0,SM),
  ...slitsA.map(s=>line(s,'#fff',1.5,0,0,3,true)),
  dots([...redA,...redADense],12,0,0,4),line(arrowA,'#333',3,0,0,4),poly(arrowHeadA,'#000',0,0,4,0),
  poly(outerB,BLUE,2,2,2,1.5,SM),poly(holeB,'#fff',2,2,3,0,SM),
  ...slitsB.map(s=>line(s,'#fff',1.5,2,2,3,true)),
  dots([...redB,...redBDense],12,2,2,4),line(arrowB,'#333',3,2,2,4),poly(arrowHeadB,'#000',2,2,4,0),
  poly(insetBodyA,BLUE,4,4,7,1.5),
  ...insetArcsA.map(s=>line(s,BLUE,1.5,4,4,7,true)),
  ...insetWhiteA.map(s=>line(s,'#fff',1.5,4,4,8)),
  dots([...redA,...redADense],12,4,4,9),
  poly(insetBodyB,BLUE,6,6,7,1.5),
  ...insetArcsB.map(s=>line(s,BLUE,1.5,6,6,7,true)),
  ...insetWhiteB.map(s=>line(s,'#fff',1.5,6,6,8)),
  dots([...redB,...redBDense],12,6,6,9)
];
function badge(l,r,label){
  return [{type:'rect',z:1,shape:{x:l,y:25,width:r-l,height:110},style:{fill:'#fff',stroke:'#000',lineWidth:6}},
    {type:'text',z:10,x:(l+r)/2,y:82,style:{text:label,font:'italic bold 60px "Liberation Serif"',fill:'#111',textAlign:'center',textVerticalAlign:'middle'}}];
}
const chart=echarts.init(document.getElementById('c'),null,{renderer:'canvas'});
chart.setOption({
  animation:false,backgroundColor:'#fff',
  grid:[frame(217,24,1524,1571,7,'#333',0),frame(1937,24,3238,1571,7,'#333',0),frame(615,494.5,1162,1062,3,'#444',5),frame(2354,469.5,2883,1051,3,'#444',5)],
  xAxis:[...mainX(0,-.195,.1938,'x'),...mainX(1,-.1945,.1936,'y'),...insetX(2,.17,.1946),...insetX(3,.17,.1947)],
  yAxis:[...mainY(0,-.1724,.1702,'x`',122),...mainY(1,-.1672,.1698,'y`',149),...insetY(2,-.05,.04),...insetY(3,-.04,.04)],
  series,
  graphic:{elements:[...badge(1391,1524,'a'),...badge(3108,3238,'b')]}
});
</script></body></html>
